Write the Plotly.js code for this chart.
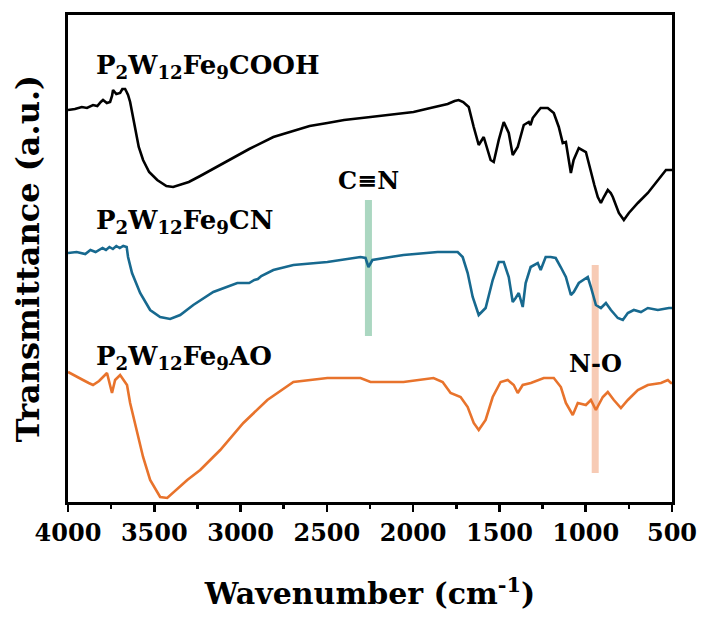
<!DOCTYPE html>
<html>
<head>
<meta charset="utf-8">
<script src="https://cdn.plot.ly/plotly-3.0.1.min.js"></script>
<style>html,body{margin:0;padding:0;background:#fff;}#chart{width:701px;height:619px;}</style>
</head>
<body>
<div id="chart"></div>
<script>
// Wavenumber (cm-1) and transmittance (a.u., offset-stacked)
const cooh_wn = [4000,3960,3920,3890,3855,3830,3810,3797,3775,3756,3745,3739,3720,3698,3685,3669,3660,3652,3640,3611,3590,3565,3530,3483,3430,3391,3350,3300,3234,3150,3060,2950,2810,2700,2600,2497,2400,2247,2131,1998,1900,1800,1760,1736,1710,1690,1678,1649,1620,1591,1551,1533,1504,1475,1446,1423,1394,1359,1330,1320,1307,1280,1261,1220,1185,1156,1133,1115,1086,1070,1040,999,970,950,930,912,895,872,855,843,808,779,750,698,640,582,535,506,500];
const cooh_t  = [392,393,395,394,397,396,400,402,399,400,406,412,408,409,413,413,410,407,400,372,355,342,330,322,316,315,317,320,326,334,342,353,365,371,376,379,382,385,387,390,394,398,401,402,400,397,395,375,357,365,342,340,362,380,369,347,355,377,380,377,384,390,394,394,389,375,359,360,329,342,354,350,329,317,305,299,305,312,309,305,289,282,289,299,309,322,332,332,332];

const cn_wn = [4000,3950,3900,3870,3840,3800,3780,3760,3740,3720,3700,3680,3660,3652,3629,3582,3524,3466,3408,3350,3274,3158,3019,2950,2920,2900,2880,2810,2694,2497,2305,2276,2259,2236,2131,2056,1858,1742,1713,1684,1655,1620,1580,1539,1504,1475,1446,1423,1406,1388,1365,1348,1319,1278,1261,1232,1203,1174,1145,1115,1086,1069,1040,988,970,941,912,883,854,814,785,756,721,680,640,582,518,500];
const cn_t  = [249,250,248,252,250,254,252,255,253,256,254,256,255,245,229,209,192,185,183,187,197,210,219,219,222,223,226,232,237,240,245,244,235,242,245,247,250,250,245,229,205,187,194,222,240,240,225,200,204,209,195,219,235,239,232,245,245,244,235,225,207,210,219,225,215,197,194,199,192,184,182,189,192,190,194,192,194,194];

const ao_wn = [4000,3960,3913,3880,3855,3820,3797,3774,3745,3727,3698,3680,3658,3640,3611,3565,3524,3466,3425,3391,3309,3234,3118,2984,2845,2694,2497,2305,2247,2056,1882,1829,1783,1725,1684,1649,1620,1580,1539,1493,1452,1417,1394,1365,1318,1243,1185,1144,1115,1075,1046,999,970,941,901,872,837,796,756,698,640,564,524,506,500];
const ao_t  = [130,126,122,119,117,121,125,129,109,122,127,122,117,99,79,45,22,5,4,9,22,32,52,79,102,120,124,124,120,120,124,120,109,105,95,79,72,82,105,120,122,117,109,117,119,124,124,115,99,87,99,97,102,92,105,110,102,94,102,112,117,119,122,119,119];

const seriesNames = ['P<sub>2</sub>W<sub>12</sub>Fe<sub>9</sub>COOH','P<sub>2</sub>W<sub>12</sub>Fe<sub>9</sub>CN','P<sub>2</sub>W<sub>12</sub>Fe<sub>9</sub>AO'];
const seriesColors = ['#000000','#17698f','#e8732c'];
const labelPos = [[3850,436],[3850,281],[3850,145]];

// highlighted bands: [wavenumber, t_low, t_high, label, label_t]
const bands = [[2259,166,302,'C≡N',322],[945,29,237,'N-O',139]];
const bandColors = ['rgba(150,205,178,0.8)','rgba(245,190,162,0.8)'];

const xTicks = [4000,3500,3000,2500,2000,1500,1000,500];

const serif = 'DejaVu Serif';
const traces = [[cooh_wn,cooh_t],[cn_wn,cn_t],[ao_wn,ao_t]].map((d,i)=>({
  x:d[0], y:d[1], type:'scatter', mode:'lines', name:seriesNames[i],
  line:{color:seriesColors[i], width:2.6}, showlegend:false, hoverinfo:'skip'
}));

const shapes = bands.map((b,i)=>({type:'line', xref:'x', yref:'y', x0:b[0], x1:b[0], y0:b[1], y1:b[2],
  line:{color:bandColors[i], width:7}, layer:'below'}));

const annotations = seriesNames.map((n,i)=>({x:labelPos[i][0], y:labelPos[i][1], xref:'x', yref:'y',
  text:'<b>'+n+'</b>', showarrow:false, xanchor:'left', yanchor:'middle',
  font:{family:serif, size:26, color:'#000'}}))
 .concat(bands.map(b=>({x:b[0], y:b[4], xref:'x', yref:'y', text:'<b>'+b[3]+'</b>', showarrow:false,
  xanchor:'center', yanchor:'middle', font:{family:serif, size:24, color:'#000'}})));

const layout = {
  width:701, height:619,
  margin:{l:68, r:29, t:15, b:117},
  paper_bgcolor:'#fff', plot_bgcolor:'#fff',
  font:{family:serif, color:'#000'},
  xaxis:{range:[4000,500], tickvals:xTicks, ticktext:xTicks.map(v=>'<b>'+v+'</b>'),
    ticks:'outside', ticklen:7, tickwidth:2.5, tickcolor:'#000',
    minor:{dtick:250, tick0:500, ticks:'outside', ticklen:4, tickwidth:2.5, tickcolor:'#000'},
    showline:true, linewidth:3, linecolor:'#000', mirror:true, showgrid:false, zeroline:false,
    tickfont:{family:serif, size:24, color:'#000'},
    title:{text:'<b>Wavenumber (cm<sup>-1</sup>)</b>', font:{family:serif, size:30, color:'#000'}, standoff:38}},
  yaxis:{range:[0,487], showticklabels:false, ticks:'', showline:true, linewidth:3, linecolor:'#000',
    mirror:true, showgrid:false, zeroline:false,
    title:{text:'<b>Transmittance (a.u.)</b>', font:{family:serif, size:32, color:'#000'}, standoff:16}},
  shapes:shapes, annotations:annotations
};
Plotly.newPlot('chart', traces, layout, {staticPlot:true, displayModeBar:false});
</script>
</body>
</html>
